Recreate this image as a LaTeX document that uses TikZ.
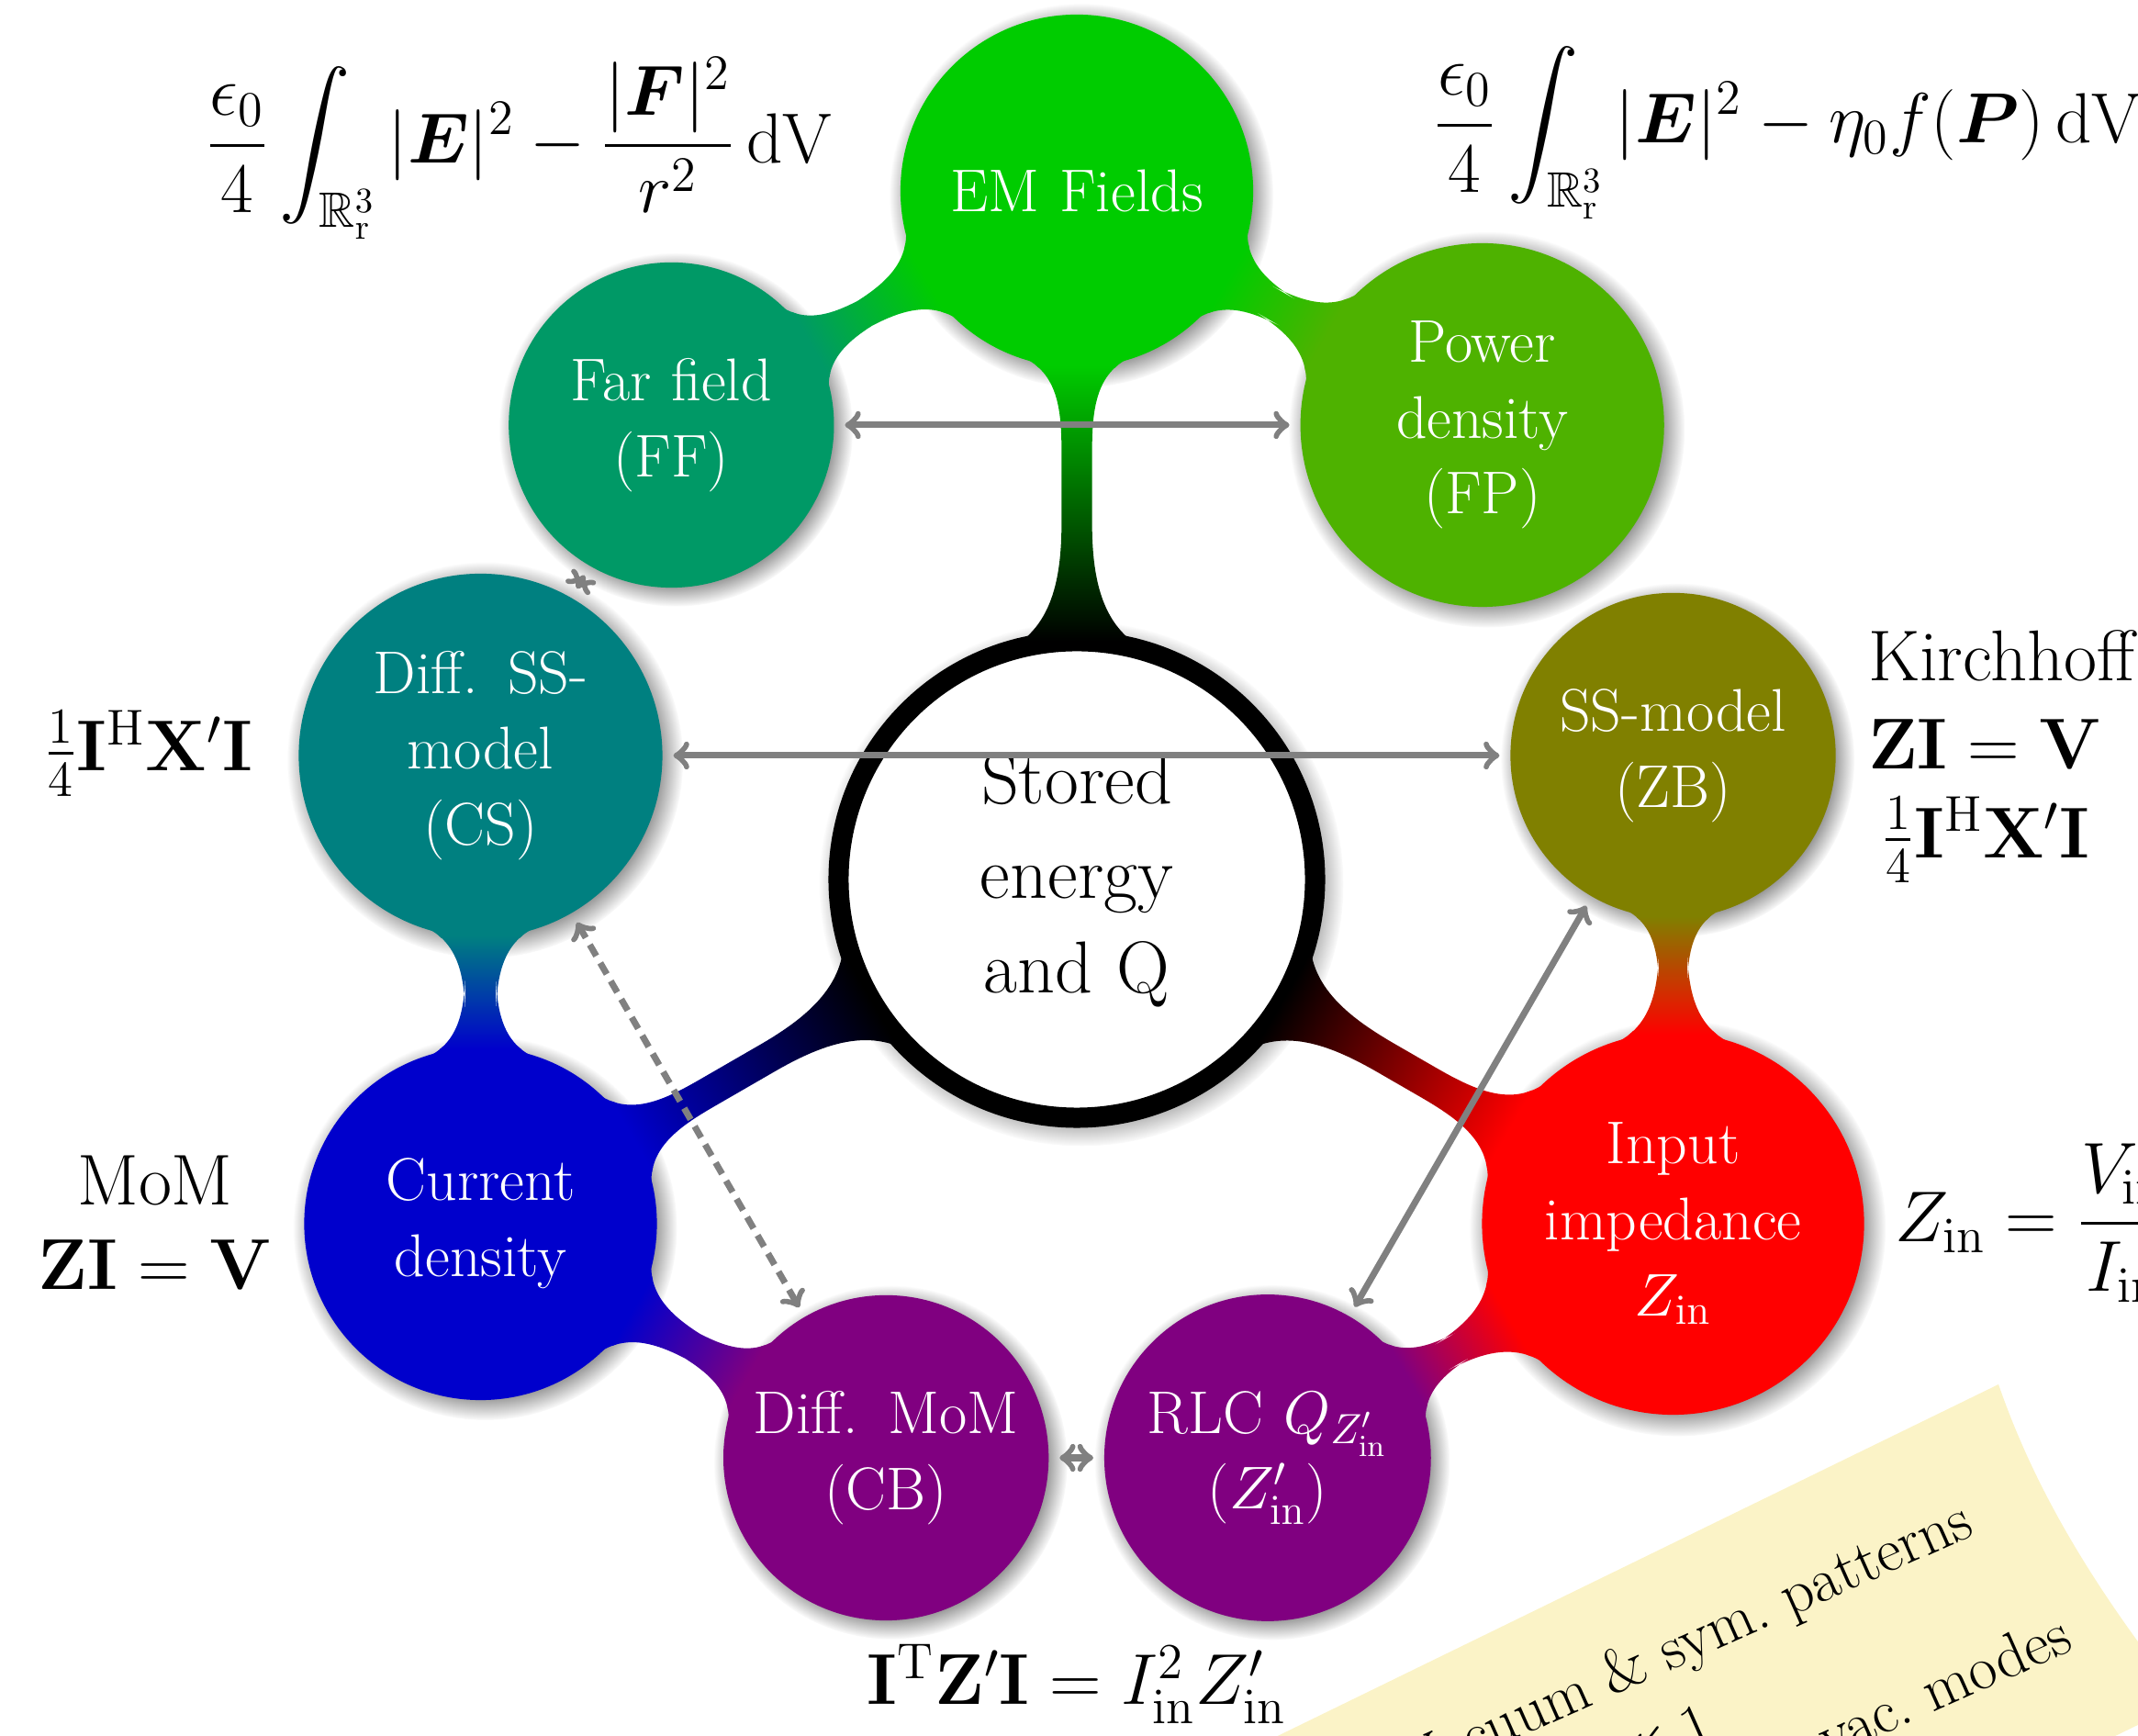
\RequirePackage{fix-cm}
\documentclass[tikz,border=0pt]{standalone}
\usepackage{amsmath,amssymb}
\usetikzlibrary{mindmap, shadows, positioning}

\definecolor{emgreen}{RGB}{0,204,0}
\definecolor{ffgreen}{RGB}{0,153,102}
\definecolor{fpgreen}{RGB}{78,178,0}
\definecolor{csteal}{RGB}{0,128,128}
\definecolor{zbolive}{RGB}{128,128,0}
\definecolor{curblue}{RGB}{0,0,204}
\definecolor{zinred}{RGB}{255,0,0}
\definecolor{cbviolet}{RGB}{128,0,128}
\definecolor{notecol}{RGB}{251,243,199}

\begin{document}
\begin{tikzpicture}[
  mindmap, concept color=black, text=white,
  level 1/.append style={level distance=7.5cm},
  level 2/.append style={level distance=5.1cm},
  hub/.style={concept, fill=white, draw=black, line width=0.22cm, text=black,
              minimum size=5.0cm, text width=4.4cm, inner sep=0pt,
              font=\fontsize{22.8}{29.3}\selectfont, circular drop shadow},
  topic/.style={concept, minimum size=3.8cm, text width=3.2cm, inner sep=0pt,
                font=\fontsize{18.7}{23.5}\selectfont, circular drop shadow},
  subtopic/.style={topic, minimum size=3.48cm},
  link/.style={<->, gray, line width=2pt, shorten <=4pt, shorten >=4pt},
  formula/.style={text=black, text width={}, minimum size=0pt, inner sep=0pt,
                  font=\fontsize{22.3}{27.5}\selectfont},
  bigformula/.style={formula, font=\fontsize{22}{28}\selectfont},
  notetext/.style={text=black, text width={}, minimum size=0pt, inner sep=0pt, rotate=24,
                   font=\fontsize{19}{23}\selectfont},
]
  \useasboundingbox (0,0) rectangle (23.29,18.91);

  \node[hub] (root) at (11.73,9.33) {Stored\\energy\\and Q}
    child[grow=90, concept color=emgreen] { node[topic] (em) {EM Fields}
      child[grow=210, concept color=ffgreen] { node[subtopic] (ff) {Far field\\(FF)} }
      child[grow=-30, concept color=fpgreen] { node[subtopic, minimum size=3.88cm] (fp) {Power\\density\\(FP)} }
    }
    child[grow=-30, concept color=zinred] { node[topic, minimum size=4.12cm] (zin) {Input\\impedance\\$Z_{\mathrm{in}}$}
      child[grow=90, concept color=zbolive] { node[subtopic] (zb) {SS-model\\(ZB)} }
      child[grow=210, concept color=cbviolet] { node[subtopic, minimum size=3.5cm] (rlc) {RLC $Q_{Z'_{\mathrm{in}}}$\\($Z'_{\mathrm{in}}$)} }
    }
    child[grow=210, concept color=curblue] { node[topic] (cur) {Current\\density}
      child[grow=90, concept color=csteal] { node[subtopic, minimum size=3.86cm] (cs) {Diff. SS-\\model\\(CS)} }
      child[grow=-30, concept color=cbviolet] { node[subtopic] (cb) {Diff. MoM\\(CB)} }
    };

  \draw[link] (ff) -- (fp);
  \draw[link] (cs) -- (zb);
  \draw[link, dash pattern=on 4pt off 2.5pt] (cs) -- (cb);
  \draw[link] (zb) -- (rlc);
  \draw[link] (cs) -- (ff);
  \draw[link] (cb) -- (rlc);

  \node[bigformula, anchor=base] (ffint) at (5.66,17.13)
    {$\displaystyle\frac{\epsilon_0}{4}\int_{\mathbb{R}^3_{\mathrm{r}}}|\boldsymbol{E}|^2-\frac{|\boldsymbol{F}|^2}{r^2}\,\mathrm{dV}$};
  \node[bigformula, anchor=base west] (fpint) at (15.62,17.35)
    {$\displaystyle\frac{\epsilon_0}{4}\int_{\mathbb{R}^3_{\mathrm{r}}}|\boldsymbol{E}|^2-\eta_0 f(\boldsymbol{P})\,\mathrm{dV}$};
  \node[formula, anchor=base east] (hxleft) at (2.75,10.51) {$\frac14\mathbf{I}^{\mathrm{H}}\mathbf{X}'\mathbf{I}$};
  \node[formula, anchor=north west, align=left] (kirch) at (20.35,12.05)
    {Kirchhoff\\$\mathbf{ZI}=\mathbf{V}$\\\hspace*{0.15cm}$\frac14\mathbf{I}^{\mathrm{H}}\mathbf{X}'\mathbf{I}$};
  \node[formula, align=center, font=\fontsize{22.3}{26.2}\selectfont] (mom) at (1.69,5.59) {MoM\\$\mathbf{ZI}=\mathbf{V}$};
  \node[formula, anchor=west] (zinf) at (20.64,5.59) {$\displaystyle Z_{\mathrm{in}}=\frac{V_{\mathrm{in}}}{I_{\mathrm{in}}}$};
  \node[formula, anchor=base] (zzi) at (11.73,0.34)
    {$\mathbf{I}^{\mathrm{T}}\mathbf{Z}'\mathbf{I}=I_{\mathrm{in}}^2Z'_{\mathrm{in}}$};

  \begin{scope}[shift={(21.77,3.83)}, rotate=26]
    \fill[notecol] (0,0) .. controls (-0.12,-1.0) and (-0.1,-2.2) .. (0.3,-4.0)
      -- (-12,-4.0) -- (-12,0) -- cycle;
    \node[notetext, anchor=base east] (note1) at (-0.94,-1.36) {Vacuum \& sym.\ patterns};
    \node[notetext, anchor=base east] (note2) at (-4.45,-2.12) {$ka\ll 1$};
    \node[notetext, anchor=base east] (note3) at (-0.52,-2.96) {vac.\ modes};
  \end{scope}
\end{tikzpicture}
\end{document}
